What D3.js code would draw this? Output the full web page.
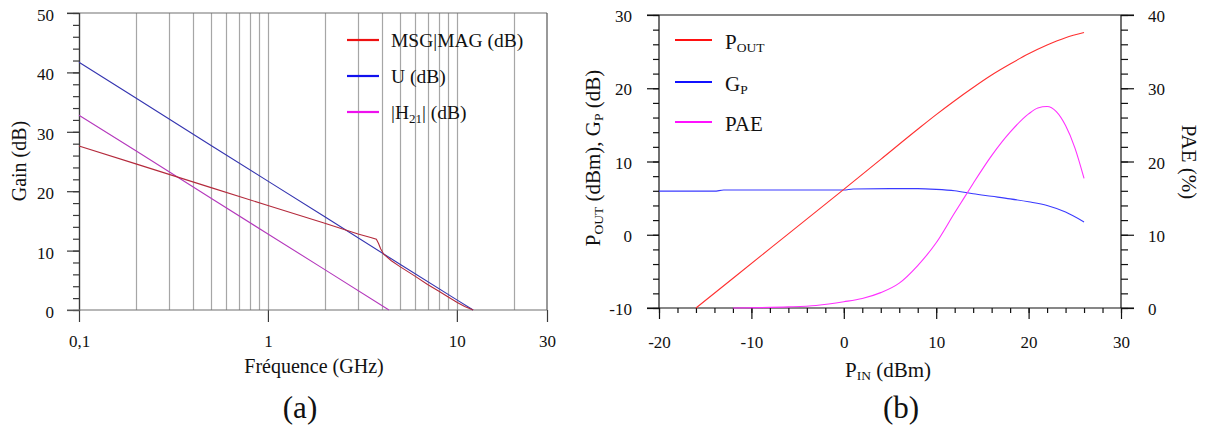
<!DOCTYPE html>
<html>
<head>
<meta charset="utf-8">
<script src="https://cdn.jsdelivr.net/npm/d3@7"></script>
<style>
  html, body { margin: 0; padding: 0; background: #fff; }
  svg { display: block; }
  text { font-family: "Liberation Serif", "Times New Roman", serif; fill: #111; }
</style>
</head>
<body>
<svg id="chart" width="1205" height="426" font-family="Liberation Serif, Times New Roman, serif"></svg>
<script>
// ---------- Chart (a) data ----------
const freqMsg = [0.1, 0.2, 0.5, 1, 2, 3, 3.5, 3.75, 3.85, 3.95, 4.1, 4.5, 5, 6, 7, 8, 9, 10, 11, 12.2];
const msgMag  = [27.6, 24.6, 20.6, 17.6, 14.6, 12.8, 12.2, 11.9, 11.2, 10.3, 9.4, 8.3, 7.3, 5.7, 4.3, 3.2, 2.2, 1.3, 0.6, 0];
const freqU   = [0.1, 0.2, 0.5, 1, 2, 5, 10, 12.2];
const uGain   = [41.7, 35.7, 27.7, 21.7, 15.7, 7.7, 1.7, 0];
const freqH21 = [0.1, 0.2, 0.5, 1, 2, 4.37];
const h21     = [32.8, 26.8, 18.8, 12.8, 6.8, 0];
const gridFreqs = [0.2, 0.3, 0.4, 0.5, 0.6, 0.7, 0.8, 0.9, 1, 2, 3, 4, 5, 6, 7, 8, 9, 10, 20];
const freqTicks = [0.1, 1, 10, 30];
const freqTickLabels = ["0,1", "1", "10", "30"];
const gainTicks = [0, 10, 20, 30, 40, 50];

// ---------- Chart (b) data ----------
const pinOut = [-16, -8, 0, 4, 8, 10, 12, 14, 16, 18, 20, 22, 24, 26];
const pout   = [-10, -1.9, 6.2, 10.3, 14.4, 16.4, 18.3, 20.1, 21.8, 23.3, 24.7, 25.9, 26.9, 27.6];
const pinGp  = [-20, -14, -13, -6, 0, 1, 5, 8, 10, 12, 14, 16, 18, 20, 22, 24, 26];
const gp     = [5.95, 5.95, 6.1, 6.1, 6.1, 6.25, 6.3, 6.3, 6.2, 6.0, 5.6, 5.25, 4.9, 4.5, 4.0, 3.1, 1.75];
const pinPae = [-12, -9, -6, -3, 0, 2, 4, 6, 8, 10, 12, 13, 14, 16, 18, 20, 21, 22, 23, 24, 25, 26];
const pae    = [0, 0.05, 0.15, 0.35, 0.85, 1.3, 2.1, 3.4, 5.8, 8.9, 13.0, 15.0, 17.0, 20.8, 24.0, 26.5, 27.3, 27.5, 26.8, 24.9, 21.9, 17.7];
const pinTicks = [-20, -10, 0, 10, 20, 30];
const leftTicksB = [-10, 0, 10, 20, 30];
const paeTicks = [0, 10, 20, 30, 40];

const svg = d3.select("#chart");
const zip = (xs, ys) => xs.map((x, i) => [x, ys[i]]);
const fmt = d => String(d);

// ================= Chart (a) =================
const xA = d3.scaleLog().domain([0.1, 30]).range([79, 547]);
const yA = d3.scaleLinear().domain([0, 50]).range([310, 13]);
const gA = svg.append("g");
const axisColA = "#3a3a3a";

gA.selectAll("line.grid").data(gridFreqs).join("line")
  .attr("x1", d => Math.round(xA(d)) + 0.5).attr("x2", d => Math.round(xA(d)) + 0.5)
  .attr("y1", yA(50)).attr("y2", yA(0))
  .attr("stroke", "#a6a6a6").attr("stroke-width", 1.2);

gA.append("line").attr("x1", 67).attr("x2", xA.range()[1]).attr("y1", yA(50)).attr("y2", yA(50)).attr("stroke", "#707070").attr("stroke-width", 1.2);
gA.append("line").attr("x1", xA.range()[1]).attr("x2", xA.range()[1]).attr("y1", yA(50)).attr("y2", yA(0)).attr("stroke", "#555").attr("stroke-width", 1.2);

const yAminor = gA.append("g").attr("transform", `translate(${xA.range()[0]},0)`)
  .call(d3.axisLeft(yA).tickValues(d3.range(0, 51, 2)).tickSize(6).tickFormat(""));
const yAmajor = gA.append("g").attr("transform", `translate(${xA.range()[0]},0)`)
  .call(d3.axisLeft(yA).tickValues(gainTicks).tickSize(12).tickPadding(13).tickFormat(fmt));
[yAminor, yAmajor].forEach(g => {
  g.attr("font-family", null);
  g.select(".domain").attr("stroke", axisColA).attr("stroke-width", 1.2);
  g.selectAll(".tick line").attr("stroke", axisColA).attr("stroke-width", 1.2);
});
yAmajor.selectAll("text").attr("font-size", 17).attr("dy", 7.5).attr("fill", "#111");

const xAaxis = gA.append("g").attr("transform", `translate(0,${yA(0)})`)
  .call(d3.axisBottom(xA).tickValues(freqTicks).tickSize(12).tickPadding(13)
    .tickFormat((d, i) => freqTickLabels[i]));
xAaxis.attr("font-family", null);
xAaxis.select(".domain").remove();
xAaxis.selectAll(".tick line").attr("stroke", axisColA).attr("stroke-width", 1.2);
xAaxis.selectAll("text").attr("font-size", 17).attr("fill", "#111");
gA.append("line").attr("x1", 67).attr("x2", xA.range()[1]).attr("y1", yA(0)).attr("y2", yA(0)).attr("stroke", "#707070").attr("stroke-width", 1.2);

const lineA = d3.line().x(d => xA(d[0])).y(d => yA(d[1]));
const seriesA = [
  { data: zip(freqU, uGain), color: "#3434b0" },
  { data: zip(freqH21, h21), color: "#b438bc" },
  { data: zip(freqMsg, msgMag), color: "#b42a3c" }
];
gA.selectAll("path.s").data(seriesA).join("path")
  .attr("d", d => lineA(d.data)).attr("fill", "none")
  .attr("stroke", d => d.color).attr("stroke-width", 1.1);

const legA = [
  { y: 40, color: "#ee1111", parts: [["MSG|MAG (dB)", 0]] },
  { y: 76, color: "#1111ee", parts: [["U (dB)", 0]] },
  { y: 112, color: "#ee11ee", parts: [["|H", 0], ["21", 1], ["| (dB)", 2]] }
];
legA.forEach(l => {
  gA.append("line").attr("x1", 347).attr("x2", 379).attr("y1", l.y).attr("y2", l.y)
    .attr("stroke", l.color).attr("stroke-width", 2.2);
  const t = gA.append("text").attr("x", 391).attr("y", l.y + 6.7).attr("font-size", 19.5);
  l.parts.forEach(p => {
    const ts = t.append("tspan").text(p[0]);
    if (p[1] === 1) ts.attr("font-size", 13).attr("dy", 4);
    if (p[1] === 2) ts.attr("dy", -4);
  });
});

gA.append("text").attr("x", 314).attr("y", 373).attr("text-anchor", "middle").attr("font-size", 20).text("Fréquence (GHz)");
gA.append("text").attr("transform", "translate(25.5,161) rotate(-90)").attr("text-anchor", "middle").attr("font-size", 20).text("Gain (dB)");
gA.append("text").attr("x", 300).attr("y", 418).attr("text-anchor", "middle").attr("font-size", 31).text("(a)");

// ================= Chart (b) =================
const xB = d3.scaleLinear().domain([-20, 30]).range([659, 1121]);
const yB = d3.scaleLinear().domain([-10, 30]).range([308, 15]);
const yP = d3.scaleLinear().domain([0, 40]).range([308, 15]);
const gB = svg.append("g");
const axisColB = "#111";

gB.append("line").attr("x1", 647).attr("x2", 1134).attr("y1", yB(30)).attr("y2", yB(30)).attr("stroke", axisColB).attr("stroke-width", 1.2);

const xBminor = gB.append("g").attr("transform", `translate(0,${yB(-10)})`)
  .call(d3.axisBottom(xB).tickValues(d3.range(-20, 31, 2)).tickSize(5).tickFormat(""));
const xBmajor = gB.append("g").attr("transform", `translate(0,${yB(-10)})`)
  .call(d3.axisBottom(xB).tickValues(pinTicks).tickSize(11).tickPadding(17).tickFormat(fmt));
const yBminor = gB.append("g").attr("transform", `translate(${xB(-20)},0)`)
  .call(d3.axisLeft(yB).tickValues(d3.range(-10, 31, 2)).tickSize(6).tickFormat(""));
const yBmajor = gB.append("g").attr("transform", `translate(${xB(-20)},0)`)
  .call(d3.axisLeft(yB).tickValues(leftTicksB).tickSize(12).tickPadding(15).tickFormat(fmt));
const yPminor = gB.append("g").attr("transform", `translate(${xB(30)},0)`)
  .call(d3.axisRight(yP).tickValues(d3.range(0, 41, 2)).tickSize(7).tickFormat(""));
const yPmajor = gB.append("g").attr("transform", `translate(${xB(30)},0)`)
  .call(d3.axisRight(yP).tickValues(paeTicks).tickSize(13).tickPadding(14).tickFormat(fmt));
[xBminor, xBmajor, yBminor, yBmajor, yPminor, yPmajor].forEach(g => {
  g.attr("font-family", null);
  g.select(".domain").remove();
  g.selectAll(".tick line").attr("stroke", axisColB).attr("stroke-width", 1.2);
  g.selectAll("text").attr("font-size", 17).attr("fill", "#111");
});
[yBmajor, yPmajor].forEach(g => g.selectAll("text").attr("dy", 6.7));
gB.append("line").attr("x1", 647).attr("x2", 1134).attr("y1", yB(-10)).attr("y2", yB(-10)).attr("stroke", axisColB).attr("stroke-width", 1.2);
gB.append("line").attr("x1", xB(-20)).attr("x2", xB(-20)).attr("y1", yB(30)).attr("y2", yB(-10)).attr("stroke", axisColB).attr("stroke-width", 1.2);
gB.append("line").attr("x1", xB(30)).attr("x2", xB(30)).attr("y1", yB(30)).attr("y2", yB(-10)).attr("stroke", axisColB).attr("stroke-width", 1.2);

const lineB = d3.line().x(d => xB(d[0])).y(d => yB(d[1])).curve(d3.curveMonotoneX);
const lineP = d3.line().x(d => xB(d[0])).y(d => yP(d[1])).curve(d3.curveMonotoneX);
gB.append("path").attr("d", lineB(zip(pinGp, gp))).attr("fill", "none").attr("stroke", "#3a3aff").attr("stroke-width", 1.1);
gB.append("path").attr("d", lineP(zip(pinPae, pae))).attr("fill", "none").attr("stroke", "#ff30ff").attr("stroke-width", 1.1);
gB.append("path").attr("d", lineB(zip(pinOut, pout))).attr("fill", "none").attr("stroke", "#ff3030").attr("stroke-width", 1.1);

const legB = [
  { y: 40, color: "#ff1111", main: "P", sub: "OUT" },
  { y: 82, color: "#1111ff", main: "G", sub: "P" },
  { y: 122, color: "#ff11ff", main: "PAE", sub: "" }
];
legB.forEach(l => {
  gB.append("line").attr("x1", 675).attr("x2", 712).attr("y1", l.y).attr("y2", l.y)
    .attr("stroke", l.color).attr("stroke-width", 2.2);
  const t = gB.append("text").attr("x", 725).attr("y", l.y + 8.7).attr("font-size", 21);
  t.append("tspan").text(l.main);
  if (l.sub) t.append("tspan").attr("font-size", 13.5).attr("dy", 3).text(l.sub);
});

const xt = gB.append("text").attr("x", 888).attr("y", 376.5).attr("text-anchor", "middle").attr("font-size", 21);
xt.append("tspan").text("P");
xt.append("tspan").attr("font-size", 13.5).attr("dy", 3).text("IN");
xt.append("tspan").attr("dy", -3).text(" (dBm)");

const yt = gB.append("text").attr("transform", "translate(600,158) rotate(-90)").attr("text-anchor", "middle").attr("font-size", 21);
yt.append("tspan").text("P");
yt.append("tspan").attr("font-size", 13.5).attr("dy", 3).text("OUT");
yt.append("tspan").attr("dy", -3).text(" (dBm), G");
yt.append("tspan").attr("font-size", 13.5).attr("dy", 3).text("P");
yt.append("tspan").attr("dy", -3).text(" (dB)");

gB.append("text").attr("transform", "translate(1182,162) rotate(90)").attr("text-anchor", "middle").attr("font-size", 21).text("PAE (%)");
gB.append("text").attr("x", 901).attr("y", 418).attr("text-anchor", "middle").attr("font-size", 31).text("(b)");
</script>
</body>
</html>
